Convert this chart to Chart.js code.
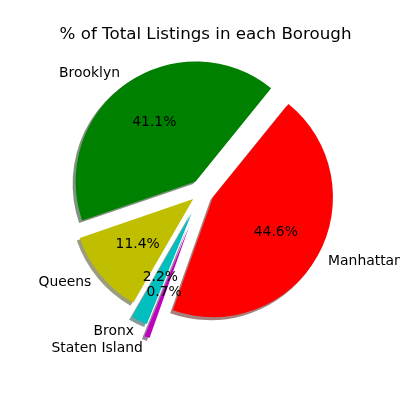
<!DOCTYPE html>
<html>
<head>
<meta charset="utf-8">
<script src="https://cdn.jsdelivr.net/npm/chart.js@4"></script>
<style>
  html, body { margin: 0; padding: 0; background: #fff; }
  #wrap { width: 400px; height: 400px; }
</style>
</head>
<body>
<div id="wrap"><canvas id="myChart" width="400" height="400"></canvas></div>
<script>
    // data (clockwise from the top-right edge of Manhattan)
    const boroughs = ['Manhattan', 'Staten Island', 'Bronx', 'Queens', 'Brooklyn'];
    const shares = [44.6, 0.7, 2.2, 11.4, 41.1];
    const titleText = '% of Total Listings in each Borough';

    // style
    const colors = ['#ff0000', '#bf00bf', '#00bfbf', '#bfbf00', '#008000'];
    const explode = [0.1, 0.3, 0.2, 0.1, 0.1]; // fraction of the radius
    const font = 'DejaVu Sans';

    // matplotlib style shadow: 0.3 * colour, alpha 0.5
    function shadowOf(hex) {
      const n = parseInt(hex.slice(1), 16);
      const r = Math.round(((n >> 16) & 255) * 0.3);
      const g = Math.round(((n >> 8) & 255) * 0.3);
      const b = Math.round((n & 255) * 0.3);
      return 'rgba(' + r + ',' + g + ',' + b + ',0.5)';
    }

    const pieExtras = {
      id: 'pieExtras',
      afterDatasetsUpdate(chart) {
        // push every wedge out along its middle angle
        chart.getDatasetMeta(0).data.forEach((arc, i) => {
          const mid = (arc.startAngle + arc.endAngle) / 2;
          const d = explode[i] * arc.outerRadius;
          arc.x += Math.cos(mid) * d;
          arc.y += Math.sin(mid) * d;
        });
      },
      beforeDatasetsDraw(chart) {
        const ctx = chart.ctx;
        ctx.save();
        chart.getDatasetMeta(0).data.forEach((arc, i) => {
          ctx.fillStyle = shadowOf(colors[i]);
          ctx.beginPath();
          ctx.moveTo(arc.x - 2.5, arc.y + 2.5);
          ctx.arc(arc.x - 2.5, arc.y + 2.5, arc.outerRadius + 0.5, arc.startAngle, arc.endAngle);
          ctx.closePath();
          ctx.fill();
        });
        ctx.restore();
      },
      afterDatasetsDraw(chart) {
        const ctx = chart.ctx;
        ctx.save();
        ctx.fillStyle = '#000';
        ctx.textBaseline = 'middle';
        ctx.font = '13.9px "' + font + '"';
        chart.getDatasetMeta(0).data.forEach((arc, i) => {
          const mid = (arc.startAngle + arc.endAngle) / 2;
          const r = arc.outerRadius;
          const cx = Math.cos(mid), cy = Math.sin(mid);
          // label at 1.1 r
          ctx.textAlign = cx > 0 ? 'left' : 'right';
          ctx.fillText(boroughs[i], arc.x + cx * r * 1.1, arc.y + cy * r * 1.1);
          // percent at 0.6 r
          ctx.textAlign = 'center';
          ctx.fillText(shares[i].toFixed(1) + '%', arc.x + cx * r * 0.6, arc.y + cy * r * 0.6);
        });
        // title
        ctx.font = '16.7px "' + font + '"';
        ctx.textAlign = 'center';
        ctx.fillText(titleText, 205.5, 35);
        ctx.restore();
      }
    };

    const data = {
      labels: boroughs,
      datasets: [{
        data: shares,
        backgroundColor: colors,
        borderWidth: 0,
        clip: false
      }]
    };

    const config = {
      type: 'pie',
      data,
      plugins: [pieExtras],
      options: {
        responsive: false,
        animation: false,
        rotation: 39,
        radius: 120,
        layout: {
          padding: { top: 45, bottom: 62.4, left: 5, right: 0 }
        },
        plugins: {
          legend: { display: false },
          title: { display: false },
          tooltip: { enabled: false }
        }
      }
    };

    const myChart = new Chart(document.getElementById('myChart'), config);
</script>
</body>
</html>
